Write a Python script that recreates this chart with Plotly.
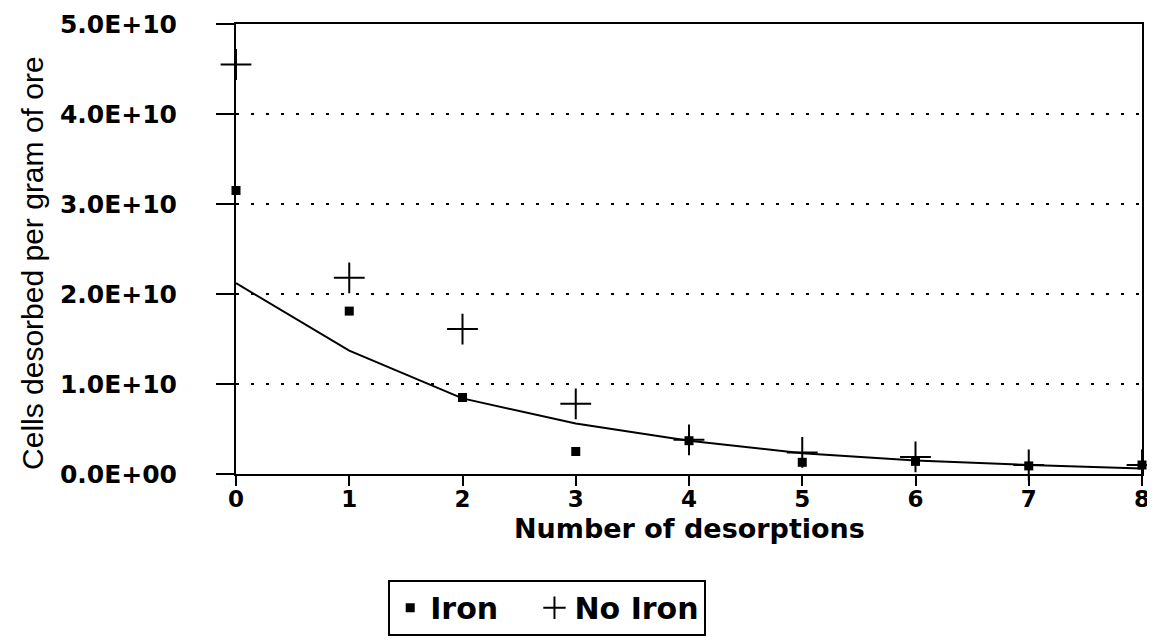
import plotly.graph_objects as go

# data
desorptions = [0, 1, 2, 3, 4, 5, 6, 7, 8]
iron = [3.15e10, 1.81e10, 0.85e10, 0.25e10, 0.37e10, 0.13e10, 0.14e10, 0.09e10, 0.10e10]
no_iron = [4.55e10, 2.18e10, 1.61e10, 0.78e10, 0.38e10, 0.24e10, 0.19e10, 0.10e10, 0.10e10]
fit_curve = [2.12e10, 1.37e10, 0.84e10, 0.56e10, 0.37e10, 0.23e10, 0.15e10, 0.10e10, 0.06e10]

y_tickvals = [0, 1e10, 2e10, 3e10, 4e10, 5e10]
y_ticktext = ["0.0E+00", "1.0E+10", "2.0E+10", "3.0E+10", "4.0E+10", "5.0E+10"]

BOLD = "DejaVu Sans"

fig = go.Figure()

fig.add_trace(go.Scatter(x=desorptions, y=fit_curve, mode="lines",
                         line=dict(color="black", width=2), showlegend=False))
fig.add_trace(go.Scatter(x=desorptions, y=iron, mode="markers", name="Iron\u00a0\u00a0\u00a0",
                         cliponaxis=False, marker=dict(symbol="square", size=9, color="black")))
fig.add_trace(go.Scatter(x=desorptions, y=no_iron, mode="markers", name="No Iron", cliponaxis=False,
                         marker=dict(symbol="cross-thin", size=22,
                                     line=dict(color="black", width=2))))

axis_common = dict(showline=True, linecolor="black", linewidth=2, mirror=True,
                   ticks="outside", tickcolor="black", tickwidth=2, automargin=False,
                   ticklabeloverflow="allow", zeroline=False)

fig.update_xaxes(range=[0, 8], tickvals=desorptions, ticklen=10, showgrid=False,
                 ticklabelstandoff=-7,
                 tickfont=dict(family=BOLD, size=23, color="black", weight="bold"),
                 **axis_common)
fig.update_yaxes(range=[0, 5e10], tickvals=y_tickvals, ticktext=y_ticktext, ticklen=18,
                 ticklabelstandoff=34,
                 tickfont=dict(family=BOLD, size=25, color="black", weight="bold"),
                 showgrid=True, gridcolor="black", gridwidth=2, griddash="3px,12px",
                 **axis_common)

# axis titles
fig.add_annotation(text="Number of desorptions", xref="paper", yref="paper",
                   x=0.5, y=0, yanchor="middle", yshift=-54, showarrow=False,
                   font=dict(family=BOLD, size=27, color="black", weight="bold"))
fig.add_annotation(text="Cells desorbed per gram of ore", xref="paper", yref="paper",
                   x=0, y=0.469, xanchor="center", xshift=-203, textangle=-90, showarrow=False,
                   font=dict(family="Liberation Sans", size=30, color="black"))

fig.update_layout(
    width=1155, height=641,
    margin=dict(l=228, r=21, t=16, b=175),
    plot_bgcolor="white", paper_bgcolor="white",
    legend=dict(orientation="h", x=0.168, xanchor="left", y=-0.235, yanchor="top",
                bordercolor="black", borderwidth=2, bgcolor="white",
                font=dict(family=BOLD, size=30, color="black", weight="bold"),
                itemwidth=30, tracegroupgap=0),
)

fig.write_html("out.html")
